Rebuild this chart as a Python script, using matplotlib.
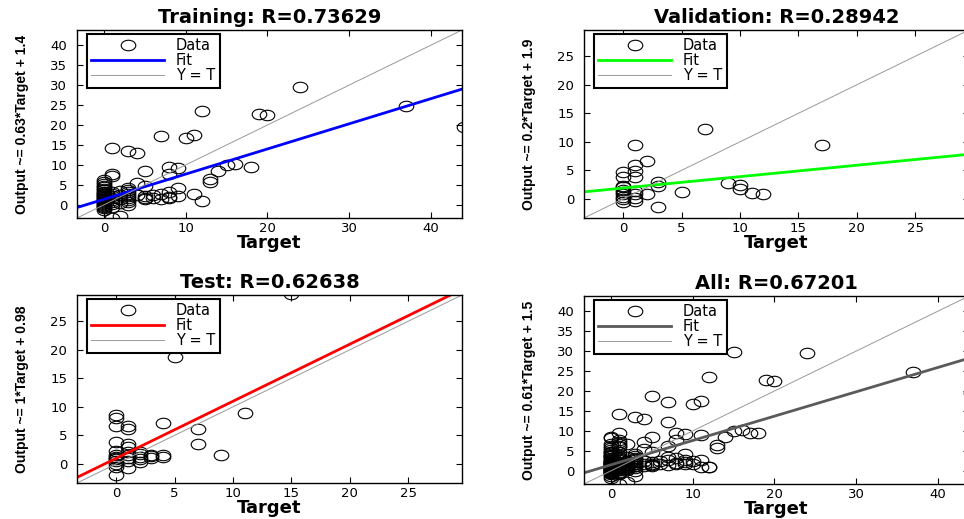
import matplotlib
matplotlib.use("Agg")
import matplotlib.pyplot as plt
import numpy as np
from matplotlib.lines import Line2D
from matplotlib.path import Path

# targets / network outputs for each data split
train_target = [0] * 25 + [1] * 12 + [2] * 5 + [3] * 10 + [4] * 3 + [5] * 5 + [6] * 2 + [7] * 3 + [8] * 5 + [9] * 3 \
    + [10, 11, 11, 12, 12, 13, 13, 14, 15, 16, 18, 19, 20, 24, 37, 44]
train_output = [-1.2, -0.8, -0.5, -0.2, 0.0, 0.3, 0.5, 0.8, 1.0, 1.2, 1.5, 1.7, 2.0, 2.2, 2.5, 2.8, 3.0, 3.3, 3.6,
                4.0, 4.4, 4.8, 5.2, 5.6, 6.2,
                -0.5, 0.2, 0.8, 1.3, 1.8, 2.3, 2.8, 3.3, 7.1, 7.7, 14.2, -3.3,
                -2.8, 0.5, 1.5, 2.5, 3.5,
                0.0, 0.6, 1.2, 1.8, 2.3, 2.8, 3.3, 3.8, 4.3, 13.4,
                2.5, 5.4, 13.0,
                1.5, 1.8, 2.2, 4.8, 8.4,
                1.8, 2.4,
                1.5, 2.8, 17.2,
                1.6, 2.0, 3.2, 7.8, 9.6,
                2.2, 4.3, 9.2,
                16.8, 2.8, 17.5, 0.9, 23.5, 5.7, 6.5, 8.6, 10.0, 10.2, 9.4, 22.8, 22.6, 29.5, 24.7, 19.4]

val_target = [0] * 10 + [1] * 8 + [2, 2, 3, 3, 3, 5, 7, 9, 10, 10, 11, 12, 17]
val_output = [-0.5, 0.0, 0.4, 0.8, 1.2, 1.6, 2.0, 2.2, 3.8, 4.7,
              -0.3, 0.2, 0.8, 1.4, 3.9, 4.8, 6.0, 9.5,
              0.9, 6.7, -1.4, 2.2, 2.9, 1.2, 12.2, 2.7, 1.8, 2.4, 1.0, 0.9, 9.5]

test_target = [0] * 13 + [1] * 9 + [2] * 5 + [3] * 3 + [4] * 3 + [5, 7, 7, 9, 11, 15]
test_output = [-1.9, -0.5, 0.0, 0.5, 0.8, 1.0, 1.2, 1.5, 2.2, 3.8, 6.6, 8.1, 8.6,
               -0.7, 0.5, 1.0, 1.5, 2.0, 3.0, 3.5, 6.2, 6.7,
               0.3, 0.8, 1.2, 1.7, 2.1,
               1.1, 1.3, 1.6,
               1.2, 1.6, 7.2,
               18.8, 3.4, 6.1, 1.6, 8.9, 29.7]

all_target = train_target + val_target + test_target
all_output = train_output + val_output + test_output

titles = ["Training: R=0.73629", "Validation: R=0.28942", "Test: R=0.62638", "All: R=0.67201"]
ylabels = ["Output ~= 0.63*Target + 1.4", "Output ~= 0.2*Target + 1.9",
           "Output ~= 1*Target + 0.98", "Output ~= 0.61*Target + 1.5"]
slopes = [0.63, 0.2, 1.0, 0.61]
intercepts = [1.4, 1.9, 0.98, 1.5]
fit_colors = ["#0000ff", "#00ff00", "#ff0000", "#5a5a5a"]
limits = [(-3.3, 43.8), (-3.35, 29.6), (-3.35, 29.6), (-3.3, 43.8)]
xticks = [np.arange(0, 41, 10), np.arange(0, 26, 5), np.arange(0, 26, 5), np.arange(0, 41, 10)]
yticks = [np.arange(0, 41, 5), np.arange(0, 26, 5), np.arange(0, 26, 5), np.arange(0, 41, 5)]
datasets = [(train_target, train_output), (val_target, val_output),
            (test_target, test_output), (all_target, all_output)]

# slightly flattened open circle
circ = Path.unit_circle()
ellipse = Path(circ.vertices * np.array([1.0, 0.72]), circ.codes)

W, H = 964, 519
boxes = [(77, 30), (584, 30), (77, 295), (584, 296)]  # left, top in px
aw, ah = 385, 188

fig = plt.figure(figsize=(W / 100, H / 100), dpi=100)

for i in range(4):
    left, top = boxes[i]
    ax = fig.add_axes([left / W, 1 - (top + ah) / H, aw / W, ah / H])
    t, o = datasets[i]
    lo, hi = limits[i]

    ax.plot(t, o, linestyle="none", marker=ellipse, markersize=10.5,
            markerfacecolor="none", markeredgecolor="k", markeredgewidth=0.8)
    xs = np.array([lo, hi])
    ax.plot(xs, slopes[i] * xs + intercepts[i], color=fit_colors[i], lw=2)
    ax.plot(xs, xs, color="#999999", lw=0.7)

    ax.set_xlim(lo, hi)
    ax.set_ylim(lo, hi)
    ax.set_xticks(xticks[i])
    ax.set_yticks(yticks[i])
    ax.tick_params(direction="in", top=True, right=True, length=4, width=0.8,
                   labelsize=9.5, pad=3)
    ax.tick_params(axis="y", pad=7)
    for s in ax.spines.values():
        s.set_linewidth(1.0)

    ax.set_title(titles[i], fontsize=14, fontweight="bold", pad=5)
    ax.set_xlabel("Target", fontsize=13, fontweight="bold", va="top")
    ax.xaxis.set_label_coords(0.5, -0.085)
    ax.set_ylabel(ylabels[i], fontsize=10, fontweight="bold",
                  family=["Liberation Sans Narrow", "Liberation Sans", "DejaVu Sans"])
    ax.yaxis.set_label_coords(-0.125, 0.5)

    handles = [
        Line2D([], [], linestyle="none", marker=ellipse, markersize=10.5,
               markerfacecolor="none", markeredgecolor="k", markeredgewidth=0.8),
        Line2D([], [], color=fit_colors[i], lw=2),
        Line2D([], [], color="#999999", lw=0.7),
    ]
    leg = ax.legend(handles, ["Data", "Fit", "Y = T"], loc="upper left",
                    bbox_to_anchor=(10 / aw, 1 - 4 / ah), borderaxespad=0,
                    fontsize=10.5, handlelength=5.0, handletextpad=0.8,
                    labelspacing=0.0, borderpad=0.3, numpoints=1,
                    fancybox=False, framealpha=1)
    leg.get_frame().set_edgecolor("k")
    leg.get_frame().set_linewidth(1.5)

fig.savefig("out.png", dpi=100)
